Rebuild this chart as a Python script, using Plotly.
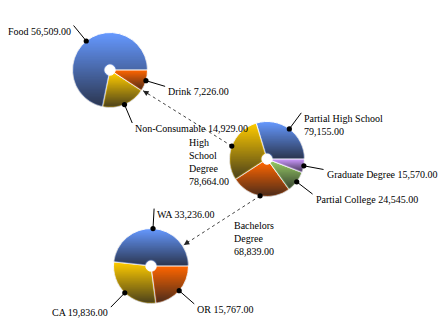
import base64
import struct
import zlib

import numpy as np
import plotly.graph_objects as go

W, H = 442, 330

# ---- data -------------------------------------------------------------
product_labels = ["Food", "Non-Consumable", "Drink"]
product_values = [56509, 14929, 7226]

education_labels = ["Partial High School", "High School Degree", "Bachelors Degree",
                    "Partial College", "Graduate Degree"]
education_values = [79155, 78664, 68839, 24545, 15570]

state_labels = ["WA", "CA", "OR"]
state_values = [33236, 19836, 15767]

# ---- styling ----------------------------------------------------------
BLUE, ORANGE, YELLOW, GREEN, PURPLE = "#6699ff", "#ff6600", "#ffcc00", "#99cc66", "#cc99ff"
FONT = dict(family="Liberation Serif", size=10, color="black")
HOLE = 0.14
RADIUS = 37.5
SHADE_RGB = (28, 28, 34)
SHADE_MAX = 0.8
LEADER = 20

pies = [
    dict(labels=product_labels, values=product_values,
         colors=[BLUE, YELLOW, ORANGE], center=(110, 70)),
    dict(labels=education_labels, values=education_values,
         colors=[BLUE, YELLOW, ORANGE, GREEN, PURPLE], center=(267, 159)),
    dict(labels=state_labels, values=state_values,
         colors=[BLUE, YELLOW, ORANGE], center=(151, 266)),
]

# label placement tweaks: how the text wraps and where the block sits
label_style = {
    "Partial High School": dict(wrap="value"),
    "High School Degree": dict(wrap="words", free=(-1, -11), xanchor="right"),
    "Bachelors Degree": dict(wrap="words", free=(-28, 22), xanchor="left"),
}

# dotted drill-down connectors: (source pie, source slice, target pie)
connectors = [(1, "High School Degree", 0), (1, "Bachelors Degree", 2)]


def slice_angles(values):
    """Start/end/mid angles in degrees, counter-clockwise from 3 o'clock."""
    frac = np.asarray(values, float) / float(sum(values))
    ends = np.cumsum(frac) * 360.0
    starts = np.concatenate([[0.0], ends[:-1]])
    return starts, ends, (starts + ends) / 2.0


def polar(center, r, deg):
    a = np.radians(deg)
    return center[0] + r * np.cos(a), center[1] - r * np.sin(a)


def png_data_uri(rgba):
    h, w, _ = rgba.shape
    raw = b"".join(b"\x00" + rgba[i].tobytes() for i in range(h))

    def chunk(tag, data):
        body = tag + data
        return struct.pack(">I", len(data)) + body + struct.pack(">I", zlib.crc32(body) & 0xFFFFFFFF)

    png = (b"\x89PNG\r\n\x1a\n"
           + chunk(b"IHDR", struct.pack(">IIBBBBB", w, h, 8, 6, 0, 0, 0))
           + chunk(b"IDAT", zlib.compress(raw, 9))
           + chunk(b"IEND", b""))
    return "data:image/png;base64," + base64.b64encode(png).decode()


def shading(values, R, hole, ss=4):
    """Per-slice vertical darkening layer (light at a slice's top, dark at its bottom)."""
    n = int(round(2 * R * ss))
    c = (np.arange(n) + 0.5) / ss - R
    u, v = np.meshgrid(c, c)
    r = np.hypot(u, v)
    theta = np.degrees(np.arctan2(-v, u)) % 360.0
    starts, ends, _ = slice_angles(values)
    idx = np.clip(np.searchsorted(ends, theta, side="right"), 0, len(values) - 1)
    ring = (r >= hole * R) & (r <= R)

    edge = np.full(u.shape, np.inf)
    for b in starts:
        a = np.radians(b)
        along = u * np.cos(a) - v * np.sin(a)
        perp = np.abs(u * np.sin(a) + v * np.cos(a))
        edge = np.minimum(edge, np.where(along > 0, perp, np.inf))

    alpha = np.zeros(u.shape)
    for k in range(len(values)):
        m = ring & (idx == k)
        if not m.any():
            continue
        top, bot = v[m].min(), v[m].max()
        t = np.clip((v - top) / max(bot - top, 1e-6), 0, 1)
        alpha = np.where(m, t * SHADE_MAX, alpha)
    keep = (r >= hole * R + 0.5) & (r <= R - 0.4) & (edge > 0.6)
    alpha = np.where(keep, alpha, 0.0)

    rgba = np.zeros((n, n, 4), np.uint8)
    rgba[..., 0], rgba[..., 1], rgba[..., 2] = SHADE_RGB
    rgba[..., 3] = np.round(alpha * 255).astype(np.uint8)
    return png_data_uri(rgba)


fig = go.Figure()
# invisible pixel-space axes used by the leader lines, dots and labels
fig.add_trace(go.Scatter(x=[], y=[], showlegend=False, hoverinfo="skip"))

shapes, annotations, images = [], [], []
dots = []

for p in pies:
    cx, cy = p["center"]
    R = RADIUS
    vals = p["values"]
    first = vals[0] / float(sum(vals)) * 360.0
    fig.add_trace(go.Pie(
        labels=p["labels"], values=vals, sort=False,
        direction="counterclockwise", rotation=90 - first,
        hole=HOLE, textinfo="none", hoverinfo="label+value",
        showlegend=False,
        marker=dict(colors=p["colors"], line=dict(color="white", width=1)),
        domain=dict(x=[(cx - R) / W, (cx + R) / W],
                    y=[1 - (cy + R) / H, 1 - (cy - R) / H]),
    ))
    images.append(dict(source=shading(vals, R, HOLE), xref="paper", yref="paper",
                       x=(cx - R) / W, y=1 - (cy - R) / H,
                       sizex=2 * R / W, sizey=2 * R / H,
                       xanchor="left", yanchor="top", sizing="stretch", layer="above"))

    _, _, mids = slice_angles(vals)
    pd = {}
    for lab, val, mid in zip(p["labels"], vals, mids):
        dx, dy = polar((cx, cy), R, mid)
        pd[lab] = (dx, dy)
        style = label_style.get(lab, {})
        num = f"{val:,.2f}"
        wrap = style.get("wrap")
        if wrap == "words":
            text = "<br>".join(lab.split() + [num])
        elif wrap == "value":
            text = f"{lab}<br>{num}"
        else:
            text = f"{lab} {num}"
        if "free" in style:
            ox, oy = style["free"]
            tx, ty, xa = dx + ox, dy + oy, style["xanchor"]
        else:
            ex, ey = polar((dx, dy), LEADER, mid)
            shapes.append(dict(type="line", xref="x", yref="y", x0=dx, y0=dy, x1=ex, y1=ey,
                               line=dict(color="black", width=1), layer="above"))
            right = np.cos(np.radians(mid)) >= 0
            tx = ex + (1 if right else -1)
            ty = ey - 2
            xa = "left" if right else "right"
        annotations.append(dict(x=tx, y=ty, xref="x", yref="y", text=text, showarrow=False,
                                xanchor=xa, yanchor="top", align="left", font=FONT))
        dots.append((dx, dy))
    p["dots"] = pd

# drill-down connectors with arrowheads at the target pie's rim
for src, lab, dst in connectors:
    sx, sy = pies[src]["dots"][lab]
    tcx, tcy = pies[dst]["center"]
    vx, vy = sx - tcx, sy - tcy
    d = np.hypot(vx, vy)
    ux, uy = vx / d, vy / d
    tipx, tipy = tcx + (RADIUS + 1.5) * ux, tcy + (RADIUS + 1.5) * uy
    shapes.append(dict(type="line", xref="x", yref="y", x0=sx, y0=sy, x1=tipx, y1=tipy,
                       line=dict(color="#444444", width=1, dash="dot"), layer="above"))
    annotations.append(dict(x=tipx, y=tipy, xref="x", yref="y",
                            ax=tipx + 8 * ux, ay=tipy + 8 * uy, axref="x", ayref="y",
                            text="", showarrow=True, arrowhead=2, arrowsize=1.1,
                            arrowwidth=1, arrowcolor="#222222"))

for dx, dy in dots:
    shapes.append(dict(type="circle", xref="x", yref="y",
                       x0=dx - 2.6, x1=dx + 2.6, y0=dy - 2.6, y1=dy + 2.6,
                       fillcolor="black", line=dict(width=0), layer="above"))

fig.update_layout(
    width=W, height=H, margin=dict(l=0, r=0, t=0, b=0),
    paper_bgcolor="white", plot_bgcolor="white",
    xaxis=dict(range=[0, W], visible=False, fixedrange=True, domain=[0, 1]),
    yaxis=dict(range=[H, 0], visible=False, fixedrange=True, domain=[0, 1]),
    shapes=shapes, annotations=annotations, images=images,
    showlegend=False,
)

fig.write_html("out.html")
